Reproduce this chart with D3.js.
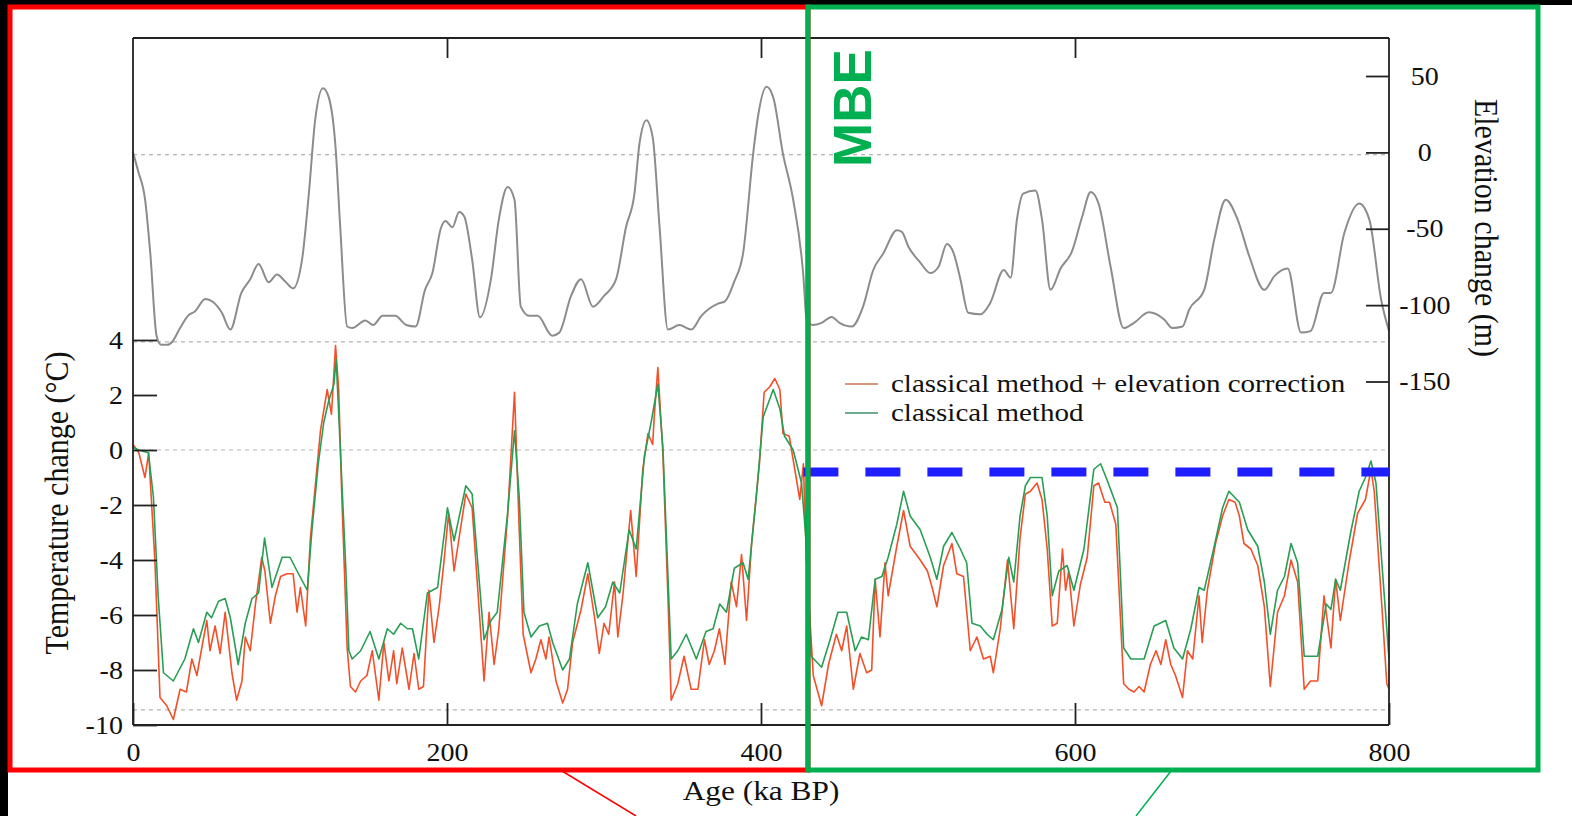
<!DOCTYPE html>
<html>
<head>
<meta charset="utf-8">
<script src="https://cdn.jsdelivr.net/npm/d3@7"></script>
<style>
  body { margin: 0; background: #fff; }
  svg { display: block; }
  text { font-family: "Liberation Serif", "DejaVu Serif", serif; fill: #111; }
</style>
</head>
<body>
<div id="chart"></div>
<script>
// elevation change (m) vs age (ka BP)
const elevation = [
  [0, 0], [3.2, -12], [7.7, -31], [11, -66], [15, -120], [18, -126], [22, -126], [25, -124],
  [30, -115], [35, -107], [39.6, -104], [46, -96], [51, -98], [56.6, -105], [62, -116],
  [69, -92], [74.7, -83], [80, -73], [86.4, -85], [91.7, -80], [97, -84.5], [102, -89],
  [107.7, -70], [112, -27], [116, 21], [121, 42], [124.7, 36], [129, 3.5], [132, -49],
  [136.4, -114], [139.6, -115], [148, -110], [153, -113], [159, -107], [167, -107],
  [174, -113], [180, -114], [186, -90], [190.7, -79], [196, -50], [199, -45], [203.5, -49],
  [207.7, -39], [211, -42], [216, -70], [221, -108], [228, -83], [233, -44], [238.6, -22.6],
  [243, -31], [247, -101], [252.4, -107], [257.7, -107], [267, -120], [271.5, -118],
  [279, -94], [285.4, -83], [293, -101], [300, -94], [307.7, -83], [314, -49], [319.4, -27],
  [322.6, 5.7], [327, 21], [331, 10], [335.4, -49], [340.7, -116], [348, -113],
  [355.6, -116], [362, -107], [372.6, -99], [377, -97.5], [383, -84.5], [388.6, -66],
  [395, -1], [398, 23], [403.5, 43], [407.8, 36], [414, -1], [420.5, -31], [427, -81],
  [429, -109], [433, -113], [438.6, -111.6], [445, -107.7], [450, -111.6], [457.8, -114],
  [465, -101], [471.5, -77], [478, -66], [486.5, -51], [489.7, -52], [494, -62],
  [501, -71.5], [507.8, -79], [513, -75], [518.4, -60], [522.7, -66], [527, -83],
  [532, -105], [539.7, -106], [546, -98.6], [554.6, -77], [559, -82], [563, -44],
  [567, -27], [574.8, -25], [579, -44], [584.4, -90], [590.8, -76], [598, -65],
  [604.6, -42], [610, -26], [615, -33.5], [622.7, -75], [631, -115], [637.6, -111.6],
  [647, -104.7], [656.8, -109.4], [662, -115], [668.5, -114], [672.7, -103], [682.3, -90],
  [688.7, -57], [696, -31], [703.6, -44], [711, -68], [720.6, -90], [727, -81],
  [735.5, -76], [744, -118], [750, -117], [758.6, -92], [763, -92], [771.5, -53],
  [781, -33.5], [787.5, -44], [795, -96.5], [800, -117]
];

// temperature change (°C), classical method + elevation correction
const tempCorrected = [
  [0, 0.2], [3.7, -0.1], [7.6, -1.0], [10, -0.1], [14, -4.1], [17.2, -9.0], [21.5, -9.3],
  [25.7, -9.8], [30, -8.7], [34, -8.8], [37.5, -7.6], [40.7, -8.2], [43.8, -7.2], [47, -6.2],
  [49, -7.3], [52.3, -6.4], [55.5, -7.4], [58.7, -5.9], [63, -8.1], [66, -9.1], [69.4, -8.4],
  [71.5, -6.8], [74.7, -7.3], [78, -5.6], [82, -3.9], [84, -4.4], [87.5, -6.3], [90.7, -5.3],
  [94, -4.6], [98, -4.5], [102, -4.5], [104.5, -5.9], [106.6, -5.0], [110, -6.4], [113, -3.2],
  [119.4, 0.7], [123.7, 2.2], [126.4, 1.3], [129, 3.8], [131, 2.2], [133, -1.7], [136.4, -7.2],
  [138.5, -8.6], [141.7, -8.8], [145, -8.4], [149, -8.2], [152.4, -7.3], [156.6, -9.1],
  [159.8, -7.0], [163, -8.4], [166, -7.3], [168, -8.5], [171.5, -7.2], [175.8, -8.7],
  [179, -7.4], [182, -8.7], [185, -8.6], [188.5, -5.1], [191.7, -7.0], [195, -5.7],
  [198, -4.1], [201, -2.3], [204.5, -4.4], [207.7, -3.2], [212, -1.6], [216, -2.1],
  [223.6, -8.4], [226.8, -5.9], [230, -7.8], [233, -6.5], [238.6, -2.4], [243, 2.1],
  [246, -2.9], [248.5, -6.7], [253.5, -8.1], [256.6, -7.6], [259.8, -6.9], [263, -7.6],
  [265, -6.8], [269.4, -8.4], [273.7, -9.2], [276.8, -8.7], [280, -7.0], [285.4, -5.8],
  [289.7, -4.5], [294, -6.1], [297, -7.4], [300, -6.3], [303, -6.7], [306.7, -4.8],
  [308.8, -6.8], [312, -5.3], [317, -2.2], [320.5, -4.6], [324.7, -0.7], [328, 0.6],
  [331, 0.2], [332, 1.2], [334.3, 3.0], [337.5, -0.1], [340.7, -5.3], [342.8, -9.1],
  [347, -8.5], [351, -7.5], [355.5, -8.7], [359.8, -8.7], [364, -6.9], [367, -7.8],
  [370.3, -7.3], [373.5, -6.5], [377, -7.8], [381, -4.8], [384.4, -5.7], [387.6, -3.8],
  [390.8, -6.2], [394, -3.4], [399, -0.5], [402, 2.1], [405.6, 2.3], [408.8, 2.6],
  [412, 2.2], [414, 0.6], [418, 0.5], [424.7, -1.8], [427, -0.5], [429, -4.1], [433.3, -8.2],
  [438.6, -9.3], [443, -7.8], [448, -6.7], [451.4, -7.3], [454.6, -6.4], [458.8, -8.7],
  [463, -7.4], [467.3, -8.1], [470.5, -8.0], [472.7, -4.7], [475.8, -6.8], [479, -4.1],
  [481, -5.3], [486.5, -3.5], [490.8, -2.2], [495, -3.5], [501.4, -4.0], [506, -4.4],
  [509, -5.0], [512, -5.7], [516.3, -4.2], [521.6, -3.4], [524.7, -4.5], [529, -4.6],
  [533.3, -7.3], [537.5, -6.8], [541.7, -7.6], [546, -7.5], [548, -8.1], [552.4, -6.5],
  [557, -4.0], [561, -6.5], [565, -3.2], [568.4, -1.6], [571.6, -1.5], [575.8, -1.2],
  [579, -1.8], [582.3, -3.6], [585.5, -6.4], [588.7, -6.3], [592, -3.6], [594, -5.1],
  [596, -4.4], [599.3, -6.4], [603.4, -4.9], [607.8, -3.9], [612, -1.3], [615, -1.2],
  [619, -1.9], [622, -1.9], [626, -2.7], [631, -8.5], [634.4, -8.7], [637.6, -8.8],
  [640.8, -8.6], [644, -8.8], [648, -7.8], [651.6, -7.3], [654.7, -7.8], [657.8, -6.9],
  [661, -7.8], [664, -8.2], [668.5, -9.0], [671.6, -7.3], [675, -7.6], [679, -5.3],
  [681, -7.0], [684.3, -5.1], [689.5, -3.4], [694, -2.4], [698, -1.8], [702, -1.9],
  [704.7, -2.4], [707.6, -3.4], [712, -3.6], [716.4, -4.2], [720.6, -5.7], [724.4, -8.6],
  [729, -5.9], [733.4, -5.3], [737.6, -4.0], [741.8, -4.8], [746, -8.7], [750, -8.4],
  [754.6, -8.4], [758.6, -5.3], [763, -7.2], [766, -4.7], [769, -6.2], [774.5, -4.1],
  [780, -2.3], [785, -1.8], [788.5, -0.7], [790.6, -1.5], [795.7, -5.9], [798.6, -8.5],
  [800, -8.7]
];

// temperature change (°C), classical method
const tempClassical = [
  [0, 0.1], [3.7, 0], [9.8, -0.1], [13, -1.7], [16, -5.3], [19.4, -8.1], [25.7, -8.4],
  [33, -7.6], [38.5, -6.5], [41.7, -7], [47, -5.9], [50, -6.1], [54.5, -5.5], [58.7, -5.4],
  [62, -6.1], [67, -7.8], [71.5, -6.3], [75.8, -5.4], [80, -5.2], [83.8, -3.2], [88.5, -5],
  [95, -3.9], [100, -3.9], [104.5, -4.4], [111, -5.1], [114, -2.9], [118, -0.5], [121.5, 1.0],
  [124.7, 1.8], [128, 2.4], [129.4, 3.3], [132, 0.1], [135.4, -4.1], [137.5, -7.3],
  [139.6, -7.6], [145, -7.3], [151, -6.6], [156.6, -7.6], [162, -6.5], [166, -6.7],
  [170.5, -6.3], [174.7, -6.5], [178, -6.5], [182, -7.6], [187.5, -5.2], [194, -5.0],
  [200.3, -2.1], [204.5, -3.3], [212, -1.3], [216, -1.6], [223.6, -6.9], [228, -6.2],
  [232, -5.9], [238.6, -2.3], [243, 0.7], [246, -1.7], [249, -5.9], [253.5, -6.8],
  [258.8, -6.4], [264, -6.3], [267.3, -7], [273.7, -8], [278, -7.6], [283, -5.6],
  [289.7, -4.1], [296, -6.1], [301, -5.7], [305.6, -4.8], [310, -5.2], [316, -2.9],
  [320.5, -3.6], [325.8, -0.2], [330, 1.0], [334.3, 2.4], [337.5, 0.1], [342.8, -7.6],
  [347, -7.3], [352.4, -6.7], [358.8, -7.6], [365, -6.6], [369.5, -6.5], [373.7, -5.6],
  [378, -5.9], [383, -4.3], [388.6, -4.1], [391.8, -4.7], [397, -1.7], [401.4, 1.2],
  [407.8, 2.2], [412, 1.5], [415, 0.5], [420.5, 0], [425.8, -1.2], [429, -3.5], [432, -7.5],
  [438.6, -7.9], [444, -6.9], [449, -5.9], [454.6, -5.9], [460, -7.3], [464, -6.8],
  [468.4, -6.9], [472.7, -4.7], [477, -4.6], [481, -3.9], [486.5, -2.7], [490.8, -1.5],
  [495, -2.4], [501.4, -2.9], [507.8, -3.9], [512, -4.7], [516.3, -3.5], [521.6, -3.0],
  [527, -3.6], [531, -4.1], [534.4, -6.3], [539.7, -6.4], [544, -6.7], [548, -6.9],
  [553.5, -5.8], [557.8, -3.9], [561, -4.8], [565, -2.4], [568.4, -1.3], [571.6, -1.0],
  [579, -1.0], [582.3, -2.4], [585.5, -5.3], [589.7, -4.4], [595, -4.2], [599.3, -5.1],
  [605.7, -3.6], [612, -0.7], [616.3, -0.5], [620.5, -1.1], [627, -2.1], [631, -7.2],
  [635.6, -7.6], [644, -7.6], [650.4, -6.4], [657.8, -6.2], [663, -7.2], [668.5, -7.6],
  [673.8, -6.5], [679, -5.0], [682.3, -5.1], [688.7, -3.5], [694, -2.1], [698, -1.5],
  [704.7, -1.9], [710, -2.9], [716.4, -3.5], [720.6, -4.8], [724.4, -6.7], [729, -5.1],
  [733.4, -4.6], [737.6, -3.4], [741.8, -4.1], [746, -7.5], [754.6, -7.5], [760, -5.6],
  [763, -5.8], [766, -4.7], [769, -5.1], [775.6, -3.0], [781, -1.5], [785, -1.0],
  [788.5, -0.4], [791.7, -1.2], [797, -5.3], [800, -7.6]
];

const ageTicks = [0, 200, 400, 600, 800];
const tempTicks = [4, 2, 0, -2, -4, -6, -8, -10];
const elevTicks = [50, 0, -50, -100, -150];
const elevGrid = [-1.5, -124];
const tempGrid = [0, -9.45];
const mbeLevel = -0.8;      // blue dashed level (°C)
const mbeStart = 427;       // ka
const legendItems = ["classical method + elevation correction", "classical method"];

const width = 1572;
const height = 816;
const plotTop = 38, plotBottom = 725;
const sx = 1.12; // the original figure is a bit stretched horizontally
const plain = d => String(d); // hyphen-minus like the original

const x = d3.scaleLinear().domain([0, 800]).range([133, 1389]);
const yT = d3.scaleLinear().domain([-10, 4]).range([725, 340]);
const yE = d3.scaleLinear().domain([-150, 50]).range([381.5, 76]);

const svg = d3.select("#chart").append("svg")
  .attr("width", width)
  .attr("height", height);

svg.append("rect").attr("width", width).attr("height", height).attr("fill", "#fff");
// dark edges of the screenshot
svg.append("rect").attr("x", 0).attr("y", 0).attr("width", width).attr("height", 5).attr("fill", "#000");
svg.append("rect").attr("x", 0).attr("y", 0).attr("width", 8).attr("height", height).attr("fill", "#000");

// dotted reference lines
const grid = svg.append("g")
  .attr("stroke", "#b5b5b5")
  .attr("stroke-width", 1.2)
  .attr("stroke-dasharray", "4,4");
grid.selectAll("line.e").data(elevGrid).join("line")
  .attr("x1", x(0)).attr("x2", x(800))
  .attr("y1", d => yE(d)).attr("y2", d => yE(d));
grid.selectAll("line.t").data(tempGrid).join("line")
  .attr("x1", x(0)).attr("x2", x(800))
  .attr("y1", d => yT(d)).attr("y2", d => yT(d));

// curves
const elevLine = d3.line().x(d => x(d[0])).y(d => yE(d[1])).curve(d3.curveMonotoneX);
const tempLine = d3.line().x(d => x(d[0])).y(d => yT(d[1]));

svg.append("path").datum(elevation)
  .attr("d", elevLine)
  .attr("fill", "none")
  .attr("stroke", "#8c8c8c")
  .attr("stroke-width", 2);

svg.append("path").datum(tempCorrected)
  .attr("d", tempLine)
  .attr("fill", "none")
  .attr("stroke", "#f2502a")
  .attr("stroke-width", 1.6)
  .attr("stroke-linejoin", "round");

svg.append("path").datum(tempClassical)
  .attr("d", tempLine)
  .attr("fill", "none")
  .attr("stroke", "#2a9d55")
  .attr("stroke-width", 1.6)
  .attr("stroke-linejoin", "round");

// frame
const frame = svg.append("g").attr("stroke", "#222").attr("stroke-width", 1.8);
frame.append("line").attr("x1", x(0)).attr("x2", x(800)).attr("y1", plotTop).attr("y2", plotTop);
frame.append("line").attr("x1", x(0)).attr("x2", x(800)).attr("y1", plotBottom).attr("y2", plotBottom);
frame.append("line").attr("x1", x(0)).attr("x2", x(0)).attr("y1", plotTop).attr("y2", plotBottom);
frame.append("line").attr("x1", x(800)).attr("x2", x(800)).attr("y1", plotTop).attr("y2", plotBottom);

function styleAxis(g) {
  g.select(".domain").remove();
  g.selectAll(".tick line").attr("stroke", "#222").attr("stroke-width", 1.8);
  g.selectAll(".tick text")
    .attr("fill", "#111")
    .style("font-family", "'Liberation Serif', serif")
    .style("font-size", "25px")
    .attr("transform", `scale(${sx},1)`);
}

svg.append("g")
  .attr("transform", `translate(0,${plotBottom})`)
  .call(d3.axisBottom(x).tickValues(ageTicks).tickSize(-22).tickPadding(18).tickFormat(plain))
  .call(styleAxis);

svg.append("g")
  .attr("transform", `translate(0,${plotTop})`)
  .call(d3.axisTop(x).tickValues([200, 400, 600]).tickSize(-20).tickFormat(""))
  .call(styleAxis);

svg.append("g")
  .attr("transform", `translate(${x(0)},0)`)
  .call(d3.axisLeft(yT).tickValues(tempTicks).tickSize(-24).tickPadding(9).tickFormat(plain))
  .call(styleAxis);

const rightAxis = svg.append("g")
  .attr("transform", `translate(${x(800)},0)`)
  .call(d3.axisRight(yE).tickValues(elevTicks).tickSize(-23).tickPadding(32).tickFormat(plain))
  .call(styleAxis);
rightAxis.selectAll(".tick text").attr("text-anchor", "middle");

// axis titles
svg.append("text")
  .attr("transform", `translate(${x(400)},800) scale(${sx},1)`)
  .attr("text-anchor", "middle")
  .style("font-size", "28px")
  .text("Age (ka BP)");

svg.append("text")
  .attr("transform", `translate(68,503) scale(${sx},1) rotate(-90)`)
  .attr("text-anchor", "middle")
  .style("font-size", "30px")
  .text("Temperature change (°C)");

svg.append("text")
  .attr("transform", `translate(1475,228) scale(${sx},1) rotate(90)`)
  .attr("text-anchor", "middle")
  .style("font-size", "30px")
  .text("Elevation change (m)");

// legend
const legend = svg.append("g").attr("transform", "translate(845,384)");
const legendColors = ["#c8764e", "#3f8f6a"];
legend.selectAll("line").data(legendItems).join("line")
  .attr("x1", 0).attr("x2", 33)
  .attr("y1", (d, i) => i * 29).attr("y2", (d, i) => i * 29)
  .attr("stroke", (d, i) => legendColors[i])
  .attr("stroke-width", 1.6);
legend.selectAll("text").data(legendItems).join("text")
  .attr("transform", (d, i) => `translate(46,${i * 29 + 8}) scale(1.16,1)`)
  .style("font-size", "25px")
  .text(d => d);

// blue dashed level line
svg.append("line")
  .attr("x1", x(mbeStart)).attr("x2", x(800))
  .attr("y1", yT(mbeLevel)).attr("y2", yT(mbeLevel))
  .attr("stroke", "#1e1eff")
  .attr("stroke-width", 9)
  .attr("stroke-dasharray", "35,27");

// highlight boxes and connectors
svg.append("rect")
  .attr("x", 10).attr("y", 7).attr("width", 798).attr("height", 763)
  .attr("fill", "none").attr("stroke", "#ff0000").attr("stroke-width", 5);
svg.append("line")
  .attr("x1", 562).attr("y1", 771).attr("x2", 636).attr("y2", 816)
  .attr("stroke", "#ff0000").attr("stroke-width", 1.5);

svg.append("rect")
  .attr("x", 808).attr("y", 7).attr("width", 730).attr("height", 763)
  .attr("fill", "none").attr("stroke", "#00b050").attr("stroke-width", 5);
svg.append("line")
  .attr("x1", 1171).attr("y1", 771).attr("x2", 1136).attr("y2", 816)
  .attr("stroke", "#00b050").attr("stroke-width", 1.5);

svg.append("text")
  .attr("transform", "translate(871,167) rotate(-90)")
  .style("font-family", "'Liberation Sans', Arial, sans-serif")
  .style("font-weight", "bold")
  .style("font-size", "53px")
  .style("fill", "#00b050")
  .text("MBE");
</script>
</body>
</html>
